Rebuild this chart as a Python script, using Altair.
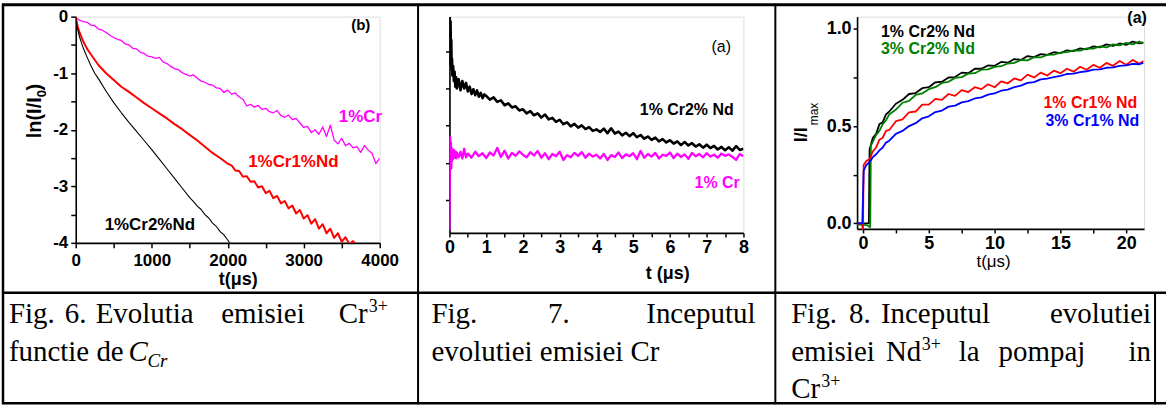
import altair as alt
import pandas as pd

# ---------------- Fig. 6 : ln(I/I0) vs t (us) ----------------
F6_CR_T = [0, 50, 100, 150, 200, 250, 300, 350, 400, 450, 500, 550, 600, 650, 700, 750, 800, 850, 900, 950,
           1000, 1050, 1100, 1150, 1200, 1250, 1300, 1350, 1400, 1450, 1500, 1550, 1600, 1650, 1700, 1750, 1800,
           1850, 1900, 1950, 2000, 2050, 2100, 2150, 2200, 2250, 2300, 2350, 2400, 2450, 2500, 2550, 2600, 2650,
           2700, 2750, 2800, 2850, 2900, 2950, 3000, 3050, 3100, 3150, 3200, 3250, 3300, 3350, 3400, 3450, 3500,
           3550, 3600, 3650, 3700, 3750, 3800, 3850, 3900, 3950, 4000]
F6_CR_V = [-0.02, -0.06, -0.09, -0.10, -0.15, -0.16, -0.22, -0.24, -0.28, -0.33, -0.37, -0.40, -0.42, -0.48,
           -0.50, -0.56, -0.57, -0.63, -0.65, -0.70, -0.71, -0.74, -0.72, -0.80, -0.83, -0.88, -0.92, -0.94,
           -0.99, -1.02, -1.05, -1.03, -1.09, -1.14, -1.16, -1.20, -1.21, -1.26, -1.27, -1.34, -1.30, -1.37,
           -1.35, -1.42, -1.46, -1.58, -1.55, -1.60, -1.57, -1.64, -1.62, -1.68, -1.70, -1.66, -1.75, -1.78,
           -1.74, -1.82, -1.80, -1.88, -1.96, -1.94, -2.05, -2.00, -2.08, -1.95, -2.12, -1.92, -2.18, -2.25,
           -2.15, -2.28, -2.24, -2.32, -2.30, -2.40, -2.28, -2.36, -2.42, -2.60, -2.50]

F6_CRND1_T = [0, 25, 50, 100, 150, 200, 300, 400, 500, 600, 700, 800, 900, 1000, 1100, 1200, 1300, 1400,
              1500, 1600, 1700, 1800, 1900,
              2000, 2050, 2100, 2150, 2200, 2250, 2300, 2350, 2400, 2450, 2500, 2550, 2600, 2650, 2700, 2750,
              2800, 2850, 2900, 2950, 3000, 3050, 3100, 3150, 3200, 3250, 3300, 3350, 3400, 3450, 3500, 3550,
              3600, 3650, 3700]
F6_CRND1_V = [0.0, -0.17, -0.28, -0.44, -0.57, -0.67, -0.86, -1.00, -1.12, -1.24, -1.33, -1.43, -1.53, -1.62,
              -1.71, -1.80, -1.90, -1.99, -2.09, -2.19, -2.30, -2.41, -2.50,
              -2.60, -2.63, -2.72, -2.73, -2.83, -2.82, -2.92, -2.91, -3.02, -3.00, -3.12, -3.08, -3.21, -3.17,
              -3.30, -3.26, -3.39, -3.34, -3.48, -3.42, -3.57, -3.51, -3.66, -3.58, -3.75, -3.67, -3.83, -3.75,
              -3.91, -3.83, -3.98, -3.90, -4.02, -3.97, -4.05]

F6_CRND2_T = [0, 10, 25, 50, 75, 100, 150, 200, 250, 300, 400, 500, 600, 700, 800, 900, 1000, 1100, 1200,
              1300, 1400, 1500, 1550, 1600, 1650, 1700, 1750, 1800, 1850, 1900, 1950, 2000, 2050]
F6_CRND2_V = [0.0, -0.12, -0.22, -0.36, -0.46, -0.56, -0.72, -0.87, -1.00, -1.10, -1.32, -1.52, -1.70, -1.87,
              -2.03, -2.19, -2.35, -2.52, -2.69, -2.86, -3.03, -3.20, -3.27, -3.35, -3.41, -3.50, -3.56, -3.65,
              -3.71, -3.80, -3.86, -3.95, -4.05]

# ---------------- Fig. 7 : early Cr emission (arb. units) vs t (us) ----------------
F7_CRND_T = [0, 0.01, 0.02, 0.03, 0.04, 0.05, 0.06, 0.07, 0.08, 0.1, 0.12, 0.14, 0.16, 0.18, 0.2, 0.25, 0.3,
             0.35, 0.4, 0.45, 0.5, 0.55, 0.6, 0.65, 0.7, 0.75, 0.8, 0.85, 0.9, 0.95,
             1.0, 1.1, 1.2, 1.3, 1.4, 1.5, 1.6, 1.7, 1.8, 1.9, 2.0, 2.1, 2.2, 2.3, 2.4, 2.5, 2.6, 2.7, 2.8, 2.9,
             3.0, 3.1, 3.2, 3.3, 3.4, 3.5, 3.6, 3.7, 3.8, 3.9, 4.0, 4.1, 4.2, 4.3, 4.4, 4.5, 4.6, 4.7, 4.8, 4.9,
             5.0, 5.1, 5.2, 5.3, 5.4, 5.5, 5.6, 5.7, 5.8, 5.9, 6.0, 6.1, 6.2, 6.3, 6.4, 6.5, 6.6, 6.7, 6.8, 6.9,
             7.0, 7.1, 7.2, 7.3, 7.4, 7.5, 7.6, 7.7, 7.8, 7.9, 8.0]
F7_CRND_V = [4.6, 5.9, 5.2, 5.8, 4.9, 5.3, 4.5, 4.8, 4.35, 4.6, 4.2, 4.45, 4.05, 4.3, 4.0, 4.25, 3.95, 4.2,
             4.0, 4.15, 3.92, 4.05, 3.85, 3.98, 3.82, 3.95, 3.78, 3.88, 3.74, 3.84,
             3.80, 3.70, 3.76, 3.64, 3.68, 3.55, 3.60, 3.49, 3.52, 3.41, 3.44, 3.33, 3.39, 3.28, 3.33, 3.22,
             3.30, 3.17, 3.21, 3.10, 3.16, 3.04, 3.09, 2.98, 3.05, 2.95, 3.01, 2.91, 2.96, 2.86, 2.90, 2.83,
             2.92, 2.80, 2.93, 2.79, 2.84, 2.74, 2.81, 2.72, 2.80, 2.69, 2.75, 2.65, 2.71, 2.62, 2.68, 2.58,
             2.64, 2.55, 2.61, 2.52, 2.58, 2.48, 2.56, 2.47, 2.53, 2.44, 2.50, 2.41, 2.49, 2.40, 2.46, 2.36,
             2.43, 2.34, 2.42, 2.33, 2.45, 2.35, 2.38]

F7_CR_T = [0, 0.01, 0.02, 0.03, 0.04, 0.05, 0.06, 0.07, 0.08, 0.1, 0.12, 0.14, 0.16, 0.18, 0.2, 0.25, 0.3,
           0.35, 0.4, 0.45, 0.5,
           0.6, 0.7, 0.8, 0.9, 1.0, 1.1, 1.2, 1.3, 1.4, 1.5, 1.6, 1.7, 1.8, 1.9, 2.0, 2.1, 2.2, 2.3, 2.4, 2.5,
           2.6, 2.7, 2.8, 2.9, 3.0, 3.1, 3.2, 3.3, 3.4, 3.5, 3.6, 3.7, 3.8, 3.9, 4.0, 4.1, 4.2, 4.3, 4.4, 4.5,
           4.6, 4.7, 4.8, 4.9, 5.0, 5.1, 5.2, 5.3, 5.4, 5.5, 5.6, 5.7, 5.8, 5.9, 6.0, 6.1, 6.2, 6.3, 6.4, 6.5,
           6.6, 6.7, 6.8, 6.9, 7.0, 7.1, 7.2, 7.3, 7.4, 7.5, 7.6, 7.7, 7.8, 7.9, 8.0]
F7_CR_V = [0.2, 1.6, 2.7, 2.0, 2.55, 1.85, 2.4, 2.05, 2.35, 2.1, 2.35, 2.15, 2.3, 2.12, 2.28, 2.15, 2.3, 2.12,
           2.38, 2.15, 2.25,
           2.14, 2.30, 2.18, 2.26, 2.13, 2.28, 2.20, 2.40, 2.16, 2.33, 2.12, 2.27, 2.19, 2.31, 2.22, 2.15, 2.29,
           2.20, 2.32, 2.14, 2.26, 2.10, 2.24, 2.18, 2.30, 2.08, 2.21, 2.15, 2.27, 2.19, 2.29, 2.14, 2.25, 2.17,
           2.22, 2.12, 2.24, 2.08, 2.21, 2.16, 2.28, 2.13, 2.23, 2.18, 2.26, 2.10, 2.32, 2.14, 2.24, 2.17, 2.27,
           2.12, 2.22, 2.19, 2.28, 2.13, 2.25, 2.16, 2.23, 2.11, 2.27, 2.18, 2.24, 2.15, 2.26, 2.17, 2.22, 2.14,
           2.25, 2.19, 2.23, 2.16, 2.08, 2.24, 2.18]

# ---------------- Fig. 8 : Nd emission rise I/Imax vs t (us) ----------------
F8_A_T = [-0.45, 0.0, 0.3, 0.45, 0.5, 0.75, 1.0, 1.25, 1.5, 1.75, 2.0, 2.5, 3.0, 3.5, 4.0, 4.5, 5.0, 5.5, 6.0,
          6.5, 7.0, 7.5, 8.0, 8.5, 9.0, 9.5, 10.0, 10.5, 11.0, 11.5, 12.0, 12.5, 13.0, 13.5, 14.0, 14.5, 15.0,
          15.5, 16.0, 16.5, 17.0, 17.5, 18.0, 18.5, 19.0, 19.5, 20.0, 20.5, 21.0, 21.3]
F8_A_V = [0.0, 0.0, 0.0, 0.0, 0.38, 0.44, 0.46, 0.51, 0.52, 0.56, 0.575, 0.615, 0.635, 0.665, 0.67, 0.695,
          0.70, 0.725, 0.728, 0.75, 0.752, 0.775, 0.772, 0.795, 0.795, 0.812, 0.81, 0.83, 0.826, 0.845, 0.84,
          0.86, 0.855, 0.87, 0.866, 0.88, 0.875, 0.89, 0.886, 0.90, 0.895, 0.91, 0.905, 0.92, 0.912, 0.925,
          0.918, 0.935, 0.926, 0.93]

F8_B_T = [-0.45, 0.0, 0.3, 0.55, 0.6, 0.75, 1.0, 1.25, 1.5, 1.75, 2.0, 2.5, 3.0, 3.5, 4.0, 4.5, 5.0, 5.5, 6.0,
          6.5, 7.0, 7.5, 8.0, 8.5, 9.0, 9.5, 10.0, 10.5, 11.0, 11.5, 12.0, 12.5, 13.0, 13.5, 14.0, 14.5, 15.0,
          15.5, 16.0, 16.5, 17.0, 17.5, 18.0, 18.5, 19.0, 19.5, 20.0, 20.5, 21.0, 21.3]
F8_B_V = [-0.005, -0.008, -0.01, -0.02, 0.40, 0.42, 0.455, 0.475, 0.51, 0.53, 0.56, 0.585, 0.62, 0.63, 0.66,
          0.668, 0.69, 0.70, 0.722, 0.728, 0.748, 0.752, 0.77, 0.772, 0.79, 0.792, 0.805, 0.808, 0.822, 0.825,
          0.84, 0.838, 0.855, 0.853, 0.866, 0.868, 0.878, 0.88, 0.89, 0.888, 0.90, 0.898, 0.91, 0.905, 0.92,
          0.915, 0.928, 0.92, 0.935, 0.925]

F8_C_T = [-0.45, -0.1, 0.0, 0.05, 0.25, 0.5, 0.75, 1.0, 1.25, 1.5, 1.75, 2.0, 2.5, 3.0, 3.5, 4.0, 4.5, 5.0,
          5.5, 6.0, 6.5, 7.0, 7.5, 8.0, 8.5, 9.0, 9.5, 10.0, 10.5, 11.0, 11.5, 12.0, 12.5, 13.0, 13.5, 14.0,
          14.5, 15.0, 15.5, 16.0, 16.5, 17.0, 17.5, 18.0, 18.5, 19.0, 19.5, 20.0, 20.5, 21.0, 21.3]
F8_C_V = [0.0, 0.0, -0.03, 0.30, 0.32, 0.33, 0.37, 0.39, 0.43, 0.44, 0.475, 0.48, 0.525, 0.535, 0.57, 0.575,
          0.61, 0.61, 0.64, 0.635, 0.665, 0.655, 0.685, 0.675, 0.70, 0.69, 0.715, 0.70, 0.73, 0.72, 0.745,
          0.735, 0.765, 0.75, 0.775, 0.76, 0.785, 0.772, 0.795, 0.78, 0.805, 0.79, 0.815, 0.80, 0.825, 0.81,
          0.835, 0.815, 0.84, 0.82, 0.835]

F8_D_T = [-0.45, -0.05, 0.05, 0.25, 0.5, 0.75, 1.0, 1.25, 1.5, 1.75, 2.0, 2.5, 3.0, 3.5, 4.0, 4.5, 5.0, 5.5,
          6.0, 6.5, 7.0, 7.5, 8.0, 8.5, 9.0, 9.5, 10.0, 10.5, 11.0, 11.5, 12.0, 12.5, 13.0, 13.5, 14.0, 14.5,
          15.0, 15.5, 16.0, 16.5, 17.0, 17.5, 18.0, 18.5, 19.0, 19.5, 20.0, 20.5, 21.0, 21.3]
F8_D_V = [0.0, 0.0, 0.27, 0.30, 0.315, 0.34, 0.355, 0.375, 0.39, 0.415, 0.425, 0.46, 0.475, 0.50, 0.515, 0.54,
          0.55, 0.572, 0.58, 0.60, 0.605, 0.622, 0.628, 0.642, 0.648, 0.662, 0.668, 0.682, 0.688, 0.70, 0.708,
          0.722, 0.726, 0.74, 0.744, 0.752, 0.758, 0.768, 0.77, 0.778, 0.782, 0.79, 0.792, 0.80, 0.802, 0.81,
          0.812, 0.82, 0.818, 0.825]

X6_TICKS = [0, 500, 1000, 1500, 2000, 2500, 3000, 3500, 4000]
Y6_TICKS = [-4, -3.5, -3, -2.5, -2, -1.5, -1, -0.5, 0]
X7_TICKS = [0, 0.5, 1, 1.5, 2, 2.5, 3, 3.5, 4, 4.5, 5, 5.5, 6, 6.5, 7, 7.5, 8]
Y7_TICKS = [1, 2, 3, 4, 5]
X8_TICKS = [0, 2.5, 5, 7.5, 10, 12.5, 15, 17.5, 20]
Y8_TICKS = [0, 0.25, 0.5, 0.75, 1.0]

SANS = "Liberation Sans"
SERIF = "Liberation Serif"
DUMMY = pd.DataFrame({"k": [0]})

O1 = (74, 15)
O2 = (449, 15)
O3 = (858, 15)


def axis(values, expr=None, labels=True, size=17, tick=5, pad=3):
    kw = dict(values=values, grid=False, title=None, domainColor="black", domainWidth=1.6,
              tickColor="black", tickWidth=1.5, tickSize=tick, labelFont=SANS, labelFontSize=size,
              labelFontWeight="bold", labelColor="black", labelPadding=pad, labelOverlap=False,
              labelFlush=False, labelBound=False)
    if expr:
        kw["labelExpr"] = expr
    if not labels:
        kw["labels"] = False
    return alt.Axis(**kw)


def series(ts, vs, color, width, x, y, clip=False):
    df = pd.DataFrame({"t": ts, "v": vs})
    return alt.Chart(df).mark_line(color=color, strokeWidth=width, clip=clip,
                                   strokeJoin="round").encode(x=x, y=y)


def txt(s, x, y, o, size, color="black", weight="bold", font=SANS, align="left",
        baseline="alphabetic", angle=0, style="normal"):
    return alt.Chart(DUMMY).mark_text(font=font, fontSize=size, fontWeight=weight, fontStyle=style,
                                      color=color, align=align, baseline=baseline, angle=angle).encode(
        x=alt.value(x - o[0]), y=alt.value(y - o[1]), text=alt.value(s))


def cap(s, x, y, size=29, align="left", style="normal"):
    return txt(s, x, y, O1, size, weight="normal", font=SERIF, align=align, style=style)


def hrule(x1, x2, y, w, o, color="black"):
    return alt.Chart(DUMMY).mark_rule(color=color, strokeWidth=w).encode(
        x=alt.value(x1 - o[0]), x2=alt.value(x2 - o[0]), y=alt.value(y - o[1]))


def vrule(x, y1, y2, w, o, color="black"):
    return alt.Chart(DUMMY).mark_rule(color=color, strokeWidth=w).encode(
        x=alt.value(x - o[0]), y=alt.value(y1 - o[1]), y2=alt.value(y2 - o[1]))


# page frame anchors (white), so that the padded chart spans exactly the page
anchors = [
    hrule(0, 1168, 0.5, 1, O1, "white"),
    hrule(0, 1168, 405.5, 1, O1, "white"),
    vrule(0.5, 0, 406, 1, O1, "white"),
    vrule(1167.5, 0, 406, 1, O1, "white"),
]

# ---------- panel 1 ----------
x1 = alt.X("t:Q", scale=alt.Scale(domain=[0, 4000], nice=False, zero=False),
           axis=axis(X6_TICKS, "datum.value % 1000 == 0 ? '' + datum.value : ''", size=17, tick=5, pad=5))
y1 = alt.Y("v:Q", scale=alt.Scale(domain=[-4, 0], nice=False, zero=False),
           axis=axis(Y6_TICKS, "datum.value % 1 == 0 ? '' + datum.value : ''", size=17, tick=5, pad=3))

p1_layers = [
    series(F6_CR_T, F6_CR_V, "#ff00ff", 1.3, x1, y1, True),
    series(F6_CRND1_T, F6_CRND1_V, "#ff0000", 2.0, x1, y1, True),
    series(F6_CRND2_T, F6_CRND2_V, "#000000", 1.1, x1, y1, True),
    txt("(b)", 360, 28, O1, 15, align="center"),
    txt("1%Cr", 338, 121, O1, 17, color="#ff00ff"),
    txt("1%Cr1%Nd", 247, 166, O1, 17, color="#ff0000"),
    txt("1%Cr2%Nd", 103, 229, O1, 17),
    txt("t(\u03bcs)", 237, 284, O1, 18, align="center"),
    txt("ln(I/I", 39, 137, O1, 20, angle=270),
    txt("0", 44, 96, O1, 13, angle=270),
    txt(")", 39, 89, O1, 20, angle=270),
]

# table borders
table = [
    hrule(0, 1168, 3, 3, O1),
    hrule(0, 1168, 292, 2.5, O1),
    hrule(0, 1168, 403, 2.5, O1),
    vrule(1, 2, 404, 2.5, O1),
    vrule(417.5, 2, 404, 2, O1),
    vrule(776, 2, 404, 2, O1),
    vrule(1157, 292, 404, 2, O1),
]

captions = [
    # column 1
    cap("Fig.", 7, 322),
    cap("6.", 63, 322),
    cap("Evolutia", 94, 322),
    cap("emisiei", 220, 322),
    cap("Cr", 338, 322),
    txt("3+", 368, 311, O1, 18, weight="normal", font=SERIF),
    cap("functie de", 7, 361),
    cap("C", 127, 361, style="italic"),
    txt("Cr", 146, 367, O1, 19, weight="normal", font=SERIF, style="italic"),
    # column 2
    cap("Fig.", 431, 322),
    cap("7.", 548, 322),
    cap("Inceputul", 756, 322, align="right"),
    cap("evolutiei emisiei Cr", 431, 361),
    # column 3
    cap("Fig.", 792, 322),
    cap("8.", 850, 322),
    cap("Inceputul", 882, 322),
    cap("evolutiei", 1153, 322, align="right"),
    cap("emisiei", 792, 361),
    cap("Nd", 887, 361),
    txt("3+", 923, 350, O1, 18, weight="normal", font=SERIF),
    cap("la", 960, 361),
    cap("pompaj", 1000, 361),
    cap("in", 1153, 361, align="right"),
    cap("Cr", 792, 398),
    txt("3+", 822, 387, O1, 18, weight="normal", font=SERIF),
]

p1 = alt.layer(*anchors, *p1_layers, *table, *captions).properties(width=305, height=227)

# ---------- panel 2 ----------
x2 = alt.X("t:Q", scale=alt.Scale(domain=[0, 8], nice=False, zero=False),
           axis=axis(X7_TICKS, "datum.value % 1 == 0 ? '' + datum.value : ''", size=18, tick=4, pad=2))
y2 = alt.Y("v:Q", scale=alt.Scale(domain=[0.12, 5.93], nice=False, zero=False),
           axis=axis(Y7_TICKS, labels=False, tick=4))

p2 = alt.layer(
    series(F7_CRND_T, F7_CRND_V, "#000000", 2.6, x2, y2, True),
    series(F7_CR_T, F7_CR_V, "#ff00ff", 2.3, x2, y2, True),
    txt("(a)", 712, 50, O2, 16, weight="normal"),
    txt("1% Cr2% Nd", 640, 114, O2, 16),
    txt("1% Cr", 695, 187, O2, 16, color="#ff00ff"),
    txt("t (\u03bcs)", 668, 278, O2, 18, align="center"),
).properties(width=295, height=217)

# ---------- panel 3 ----------
x3 = alt.X("t:Q", scale=alt.Scale(domain=[-0.45, 21.36], nice=False, zero=False),
           axis=axis(X8_TICKS, "datum.value % 5 == 0 ? '' + datum.value : ''", size=18, tick=4, pad=2))
y3 = alt.Y("v:Q", scale=alt.Scale(domain=[-0.029, 1.063], nice=False, zero=False),
           axis=axis(Y8_TICKS, "datum.value % 0.5 == 0 ? format(datum.value, '.1f') : ''",
                     size=18, tick=4, pad=2))

p3 = alt.layer(
    series(F8_A_T, F8_A_V, "#000000", 1.8, x3, y3),
    series(F8_B_T, F8_B_V, "#008000", 1.8, x3, y3),
    series(F8_C_T, F8_C_V, "#ff0000", 1.8, x3, y3),
    series(F8_D_T, F8_D_V, "#0000ff", 1.8, x3, y3),
    txt("(a)", 1139, 21, O3, 16, align="center"),
    txt("1% Cr2% Nd", 882, 35, O3, 16),
    txt("3% Cr2% Nd", 882, 52, O3, 16, color="#008000"),
    txt("1% Cr1% Nd", 1045, 107, O3, 16, color="#ff0000"),
    txt("3% Cr1% Nd", 1047, 125, O3, 16, color="#0000ff"),
    txt("t(\u03bcs)", 995, 266, O3, 17, weight="normal", align="center"),
    txt("I/I", 808, 141, O3, 18, angle=270),
    txt("max", 819, 124, O3, 12, weight="normal", angle=270),
).properties(width=288, height=213)

inner = alt.hconcat(p2, p3, spacing=114, bounds="flush")
chart = alt.hconcat(p1, inner, spacing=70, bounds="flush").properties(
    padding=0,
    autosize=alt.AutoSizeParams(type="pad"),
).configure_view(stroke=None).configure(background="white")

chart.save("out.html", embed_options={"renderer": "svg", "actions": False})
